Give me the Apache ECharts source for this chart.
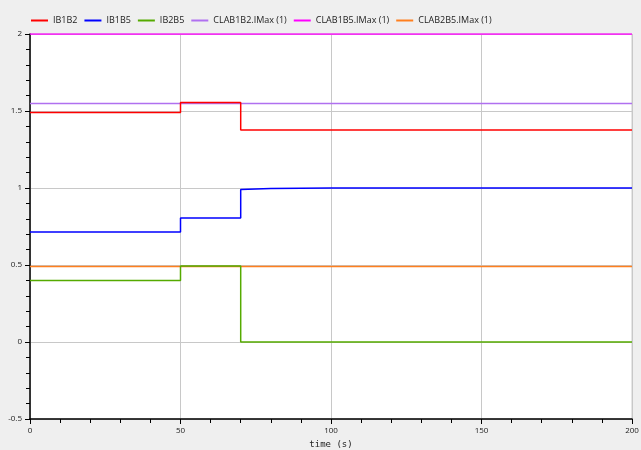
<!DOCTYPE html>
<html><head><meta charset="utf-8">
<script src="https://cdn.jsdelivr.net/npm/echarts@6/dist/echarts.min.js"></script>
<style>html,body{margin:0;padding:0;background:#efefef;}#c{width:641px;height:450px;}</style>
</head><body><div id="c"></div>
<script>
const seriesNames = ['IB1B2','IB1B5','IB2B5','CLAB1B2.IMax (1)','CLAB1B5.IMax (1)','CLAB2B5.IMax (1)'];
const colors = ['#ff0000','#0000ff','#55aa00','#b070f0','#ff00ff','#ff7f1e'];
const t_IB1B2 = [0, 50, 50, 70, 70, 200];
const v_IB1B2 = [1.49, 1.49, 1.556, 1.556, 1.377, 1.377];
const t_IB1B5 = [0, 50, 50, 70, 70, 80, 100, 200];
const v_IB1B5 = [0.714, 0.714, 0.805, 0.805, 0.99, 0.997, 1.0, 1.0];
const t_IB2B5 = [0, 50, 50, 70, 70, 200];
const v_IB2B5 = [0.4, 0.4, 0.494, 0.494, 0, 0];
const t_const = [0, 200];
const v_CLAB1B2 = [1.548, 1.548];
const v_CLAB1B5 = [2, 2];
const v_CLAB2B5 = [0.49, 0.49];
const xTicks = [0, 50, 100, 150, 200];
const yTicks = [-0.5, 0, 0.5, 1, 1.5, 2];

const zip = (t, v) => t.map((x, i) => [x, v[i]]);
const seriesData = [
  zip(t_IB1B2, v_IB1B2),
  zip(t_IB1B5, v_IB1B5),
  zip(t_IB2B5, v_IB2B5),
  zip(t_const, v_CLAB1B2),
  zip(t_const, v_CLAB1B5),
  zip(t_const, v_CLAB2B5)
];
const order = [5,3,2,1,0,4];
const chart = echarts.init(document.getElementById('c'));
chart.setOption({
  backgroundColor: '#efefef',
  animation: false,
  textStyle: {fontFamily: 'Open Sans'},
  legend: {
    top: 11, left: 26, itemGap: 7, itemWidth: 17, itemHeight: 2, icon: 'rect',
    textStyle: {fontSize: 9, color: '#222', fontFamily: 'Open Sans'},
    data: seriesNames.map((n, i) => ({name: n, itemStyle: {color: colors[i], borderWidth: 0}}))
  },
  grid: {left: 30, right: 9, top: 34, bottom: 31, outerBoundsMode: 'none', containLabel: false,
    show: true, backgroundColor: '#ffffff', borderColor: '#cccccc', borderWidth: 1},
  xAxis: {
    type: 'value', min: 0, max: 200, interval: 50,
    name: 'time (s)', nameLocation: 'middle', nameGap: 17,
    nameTextStyle: {fontSize: 9, color: '#222', fontFamily: 'DejaVu Sans Mono', verticalAlign: 'top'},
    axisLine: {show: true, onZero: false, lineStyle: {color: '#000', width: 1.5}},
    axisTick: {show: true, length: 5, lineStyle: {color: '#000'}},
    minorTick: {show: true, splitNumber: 5, length: 4, lineStyle: {color: '#000'}},
    axisLabel: {fontSize: 8, color: '#222', margin: 8,
      formatter: v => xTicks.includes(v) ? String(v) : ''},
    splitLine: {show: true, lineStyle: {color: '#c8c8c8', width: 1}}
  },
  yAxis: {
    type: 'value', min: -0.5, max: 2, interval: 0.5,
    axisLine: {show: true, onZero: false, lineStyle: {color: '#000', width: 1.5}},
    axisTick: {show: true, length: 5, lineStyle: {color: '#000'}},
    minorTick: {show: true, splitNumber: 5, length: 4, lineStyle: {color: '#000'}},
    axisLabel: {fontSize: 8, color: '#222', margin: 8,
      formatter: v => yTicks.includes(v) ? String(v) : ''},
    splitLine: {show: true, lineStyle: {color: '#c8c8c8', width: 1}}
  },
  series: order.map(i => ({
    name: seriesNames[i], type: 'line', data: seriesData[i],
    showSymbol: false, symbol: 'none',
    lineStyle: {color: colors[i], width: 1.5},
    itemStyle: {color: colors[i]},
    z: 2 + order.indexOf(i)
  }))
});
</script></body></html>
